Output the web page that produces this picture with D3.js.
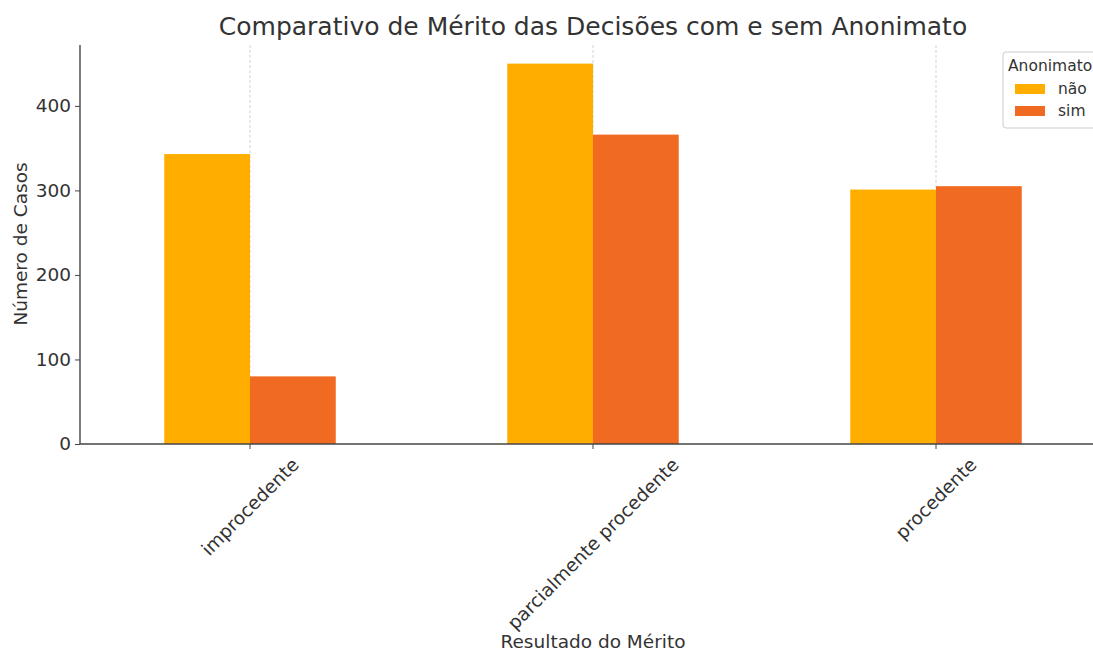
<!DOCTYPE html>
<html>
<head>
<meta charset="utf-8">
<script src="https://cdn.jsdelivr.net/npm/d3@7"></script>
<style>
  body { margin: 0; background: #fff; }
  svg { font-family: "DejaVu Sans", sans-serif; }
</style>
</head>
<body>
<svg id="chart" width="1093" height="652"></svg>
<script>
// data
var categories = ["improcedente", "parcialmente procedente", "procedente"];
var series = ["não", "sim"];
var valuesNao = [343, 450, 301];
var valuesSim = [80, 366, 305];
var yTicks = [0, 100, 200, 300, 400];

var colors = {"não": "#ffae00", "sim": "#f06a22"};

var svg = d3.select("#chart"),
    margin = {top: 45, left: 80, bottom: 444},
    textColor = "#333";

var rows = categories.map(function(c, i) {
    return {cat: c, "não": valuesNao[i], "sim": valuesSim[i]};
});

// axis runs from -0.5 to 2.5 in category units, cut off on the right like the original
var xLin = d3.scaleLinear().domain([-0.5, 2.5]).range([78.5, 1107.5]);
var yScale = d3.scaleLinear().domain([0, 472]).range([margin.bottom, margin.top]);
var barW = xLin(0.25) - xLin(0);

// vertical dashed grid at the category ticks
svg.append("g").selectAll("line").data(categories).enter()
    .append("line")
    .attr("x1", (d, i) => xLin(i)).attr("x2", (d, i) => xLin(i))
    .attr("y1", margin.top).attr("y2", margin.bottom)
    .attr("stroke", "#c8c8c8").attr("stroke-width", 0.8)
    .attr("stroke-dasharray", "3,2");

// bars
var groups = svg.append("g").selectAll("g.cat").data(rows).enter()
    .append("g").attr("class", "cat");

groups.selectAll("rect").data(d => series.map((s, j) => ({s: s, j: j, v: d[s], i: categories.indexOf(d.cat)})))
    .enter().append("rect")
    .attr("x", d => xLin(d.i - 0.25 + d.j * 0.25))
    .attr("width", barW)
    .attr("y", d => yScale(d.v))
    .attr("height", d => yScale(0) - yScale(d.v))
    .attr("fill", d => colors[d.s]);

// y axis
var yAxis = d3.axisLeft(yScale).tickValues(yTicks).tickSize(5).tickPadding(4);
var yG = svg.append("g").attr("transform", "translate(" + margin.left + ",0)").call(yAxis);
yG.select(".domain").attr("stroke", "#444").attr("stroke-width", 1.4).attr("d", "M0," + margin.top + "V" + margin.bottom);
yG.selectAll(".tick line").attr("stroke", "#444");
yG.selectAll(".tick text").attr("fill", textColor).style("font-size", "18.5px").style("font-family", "DejaVu Sans");

// x axis baseline
svg.append("line")
    .attr("x1", margin.left).attr("x2", 1093)
    .attr("y1", margin.bottom).attr("y2", margin.bottom)
    .attr("stroke", "#444").attr("stroke-width", 1.4);

var xt = svg.append("g").selectAll("g").data(categories).enter().append("g");
xt.append("line")
    .attr("x1", (d, i) => xLin(i)).attr("x2", (d, i) => xLin(i))
    .attr("y1", margin.bottom).attr("y2", margin.bottom + 5)
    .attr("stroke", "#444");
xt.append("text")
    .attr("text-anchor", "middle")
    .attr("dy", "0.35em")
    .attr("fill", textColor)
    .style("font-size", "18.5px")
    .text(d => d)
    .each(function(d, i) {
        var len = this.getComputedTextLength(),
            half = (len + 18) * Math.SQRT1_2 / 2,
            cx = xLin(i), cy = margin.bottom + 11 + half;
        d3.select(this).attr("x", cx).attr("y", cy)
            .attr("transform", "rotate(-45," + cx + "," + cy + ")");
    });

// labels
svg.append("text").attr("x", 593).attr("y", 35).attr("text-anchor", "middle")
    .attr("fill", textColor).style("font-size", "25px")
    .text("Comparativo de Mérito das Decisões com e sem Anonimato");
svg.append("text").attr("x", 593).attr("y", 648).attr("text-anchor", "middle")
    .attr("fill", textColor).style("font-size", "18.5px")
    .text("Resultado do Mérito");
svg.append("text").attr("transform", "translate(27,244) rotate(-90)").attr("text-anchor", "middle")
    .attr("fill", textColor).style("font-size", "18.5px")
    .text("Número de Casos");

// legend
var lg = svg.append("g").attr("transform", "translate(1003,52)");
lg.append("rect").attr("width", 110).attr("height", 76).attr("rx", 3)
    .attr("fill", "#fff").attr("fill-opacity", 0.8).attr("stroke", "#ccc");
lg.append("text").attr("x", 5).attr("y", 19).attr("fill", textColor)
    .style("font-size", "15.5px").text("Anonimato");
var items = lg.selectAll("g.item").data(series).enter().append("g")
    .attr("transform", (d, i) => "translate(0," + (32 + i * 22) + ")");
items.append("rect").attr("x", 12).attr("width", 30).attr("height", 10).attr("fill", d => colors[d]);
items.append("text").attr("x", 55).attr("y", 10).attr("fill", textColor)
    .style("font-size", "15.5px").text(d => d);
</script>
</body>
</html>
